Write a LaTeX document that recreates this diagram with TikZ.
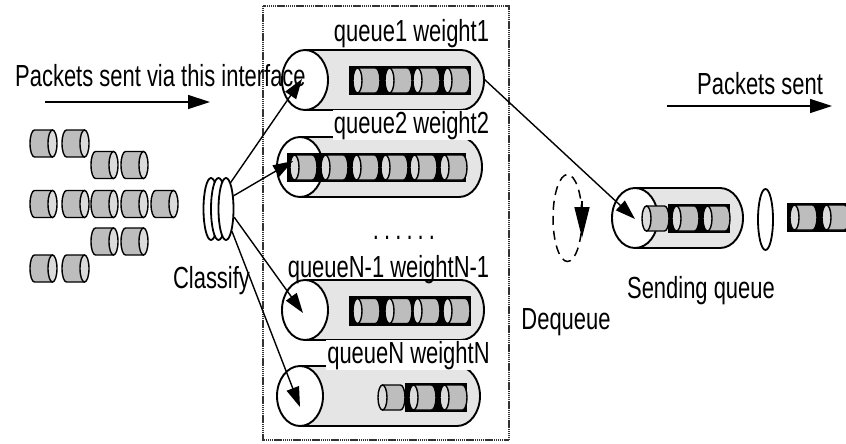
\documentclass[tikz,border=0pt]{standalone}
\usepackage{fontspec}
\newfontfamily\labfont{Liberation Sans}[FakeStretch=0.72]
\usetikzlibrary{arrows.meta, shapes.geometric}
\definecolor{tubegray}{gray}{0.9}
\definecolor{pktgray}{gray}{0.74}
\definecolor{pktface}{gray}{0.86}

% tube lying on its side: front face centre, right end
\newcommand\queuetube[3]{%
  \filldraw[tube] (#1,#2-30) -- (#3-23,#2-30)
    arc[start angle=-90, end angle=90, x radius=23, y radius=30] -- (#1,#2+30) -- cycle;
  \filldraw[face] (#1,#2) ellipse[x radius=23, y radius=30];}

\begin{document}
\begin{tikzpicture}[x=1pt, y=-1pt,
    lab/.style = {font=\labfont\fontsize{30.5}{32}\selectfont, inner sep=1pt},
    hide/.style = {fill=white},
    tube/.style = {line width=1.9pt, fill=tubegray},
    face/.style = {line width=1.9pt, fill=white},
    pkt/.style = {line width=1.4pt, fill=pktgray},
    pktend/.style = {line width=1.4pt, fill=pktface},
    cls/.style = {draw, ellipse, fill=white, line width=1.8pt, minimum width=15pt, minimum height=62pt, inner sep=0pt},
    flow/.style = {-{Triangle[length=20pt, width=13pt]}, line width=1.4pt},
    bigflow/.style = {-{Triangle[length=22pt, width=14pt]}, line width=1.4pt},
    frame/.style = {line width=1.5pt, black!80, dash pattern=on 1.3pt off 0.6pt},
    packet/.pic = {
      \filldraw[pkt] (-9,-12.5) -- (9,-12.5)
        arc[start angle=-90, end angle=90, x radius=4.5, y radius=12.5] -- (-9,12.5) -- cycle;
      \filldraw[pktend] (-9,0) ellipse[x radius=4.5, y radius=12.5];
    }]
    \useasboundingbox (0,0) rectangle (846,444);

    \draw[frame] (263,6) rectangle (509,440);

    % incoming packets
    \foreach \x/\y in {43.5/143.5, 75.5/143.5, 104.5/165, 134.5/165,
                       43.5/204, 75.5/204, 104.5/204, 134.5/204, 164.5/204,
                       104.5/241.5, 134.5/241.5, 43.5/268.5, 75.5/268.5}
        \pic[xscale=-1, yscale=1.08] at (\x,\y) {packet};

    \node[cls] (c1) at (211,209) {};
    \node[cls] (c2) at (218.5,209) {};
    \node[cls] (c3) at (226,209) {};

    % queues
    \queuetube{305}{80}{484}
    \fill (349,66) rectangle (471,95);
    \node[lab, anchor=base] (l1) at (411.5,42) {queue1 weight1};

    \queuetube{300}{167}{482}
    \fill (287,153) rectangle (466,182);
    \node[lab, hide, anchor=base] (l2) at (411.5,133) {queue2 weight2};

    \queuetube{305}{310}{484}
    \fill (349,296) rectangle (471,326);
    \node[lab, anchor=base] (l3) at (388.5,277) {queueN-1 weightN-1};

    \queuetube{300}{396}{480}
    \fill (405,383) rectangle (467,412);
    \node[lab, hide, anchor=base] (l4) at (408.5,363) {queueN weightN};

    \foreach \x in {366.5, 398.5, 426.5, 456.5} {
        \pic at (\x,80.5) {packet};
        \pic at (\x,311) {packet};
    }
    \foreach \x in {303.5, 334.5, 365.5, 394.5, 423.5, 453.5}
        \pic at (\x,167.5) {packet};
    \foreach \x in {391.5, 422.5, 453.5}
        \pic at (\x,397.5) {packet};

    \node[lab, anchor=base] (dots) at (404,239) {.\,.\,.\,.\,.\,.};

    % sending side
    \draw[line width=1.5pt, dash pattern=on 9pt off 6pt] (567.5,218) ellipse[x radius=14.5, y radius=43.5];
    \coordinate (r1) at (582,201);
    \coordinate (r2) at (582,238);
    \draw[-{Triangle[length=31pt, width=15pt]}, line width=1.4pt] (r1) -- (r2);

    \queuetube{635}{218}{743}
    \fill (668,204) rectangle (730,233);
    \foreach \x in {655.5, 685.5, 716.5}
        \pic at (\x,218.5) {packet};

    \draw[line width=1.8pt, fill=white] (765.5,219.5) ellipse[x radius=7.5, y radius=30.5];
    \fill (787,203) rectangle (850,232);
    \foreach \x in {803.5, 835.5}
        \pic at (\x,217.5) {packet};

    % arrows
    \coordinate (q1) at (302,79);
    \coordinate (q2) at (293,161);
    \coordinate (q3) at (303,313);
    \coordinate (q4) at (300,407);
    \coordinate (q1out) at (484,79);
    \coordinate (sq) at (635,219);
    \draw[flow] (c3.80) -- (q1);
    \draw[flow] (c3.60) -- (q2);
    \draw[flow] (c3.-45) -- (q3);
    \draw[flow] (c3.-75) -- (q4);
    \draw[flow] (q1out) -- (sq);

    \node[lab, anchor=base west] (inlab) at (14,87) {Packets sent via this interface};
    \coordinate (a1) at (45,102);
    \coordinate (a2) at (210,102);
    \draw[bigflow] (a1) -- (a2);

    \node[lab, anchor=base west] (outlab) at (696,95) {Packets sent};
    \coordinate (b1) at (667,106);
    \coordinate (b2) at (832,106);
    \draw[bigflow] (b1) -- (b2);

    \node[lab, anchor=base] (cl) at (211.5,288) {Classify};
    \node[lab, anchor=base] (dq) at (566,329) {Dequeue};
    \node[lab, anchor=base] (sendq) at (701,298) {Sending queue};
\end{tikzpicture}
\end{document}
